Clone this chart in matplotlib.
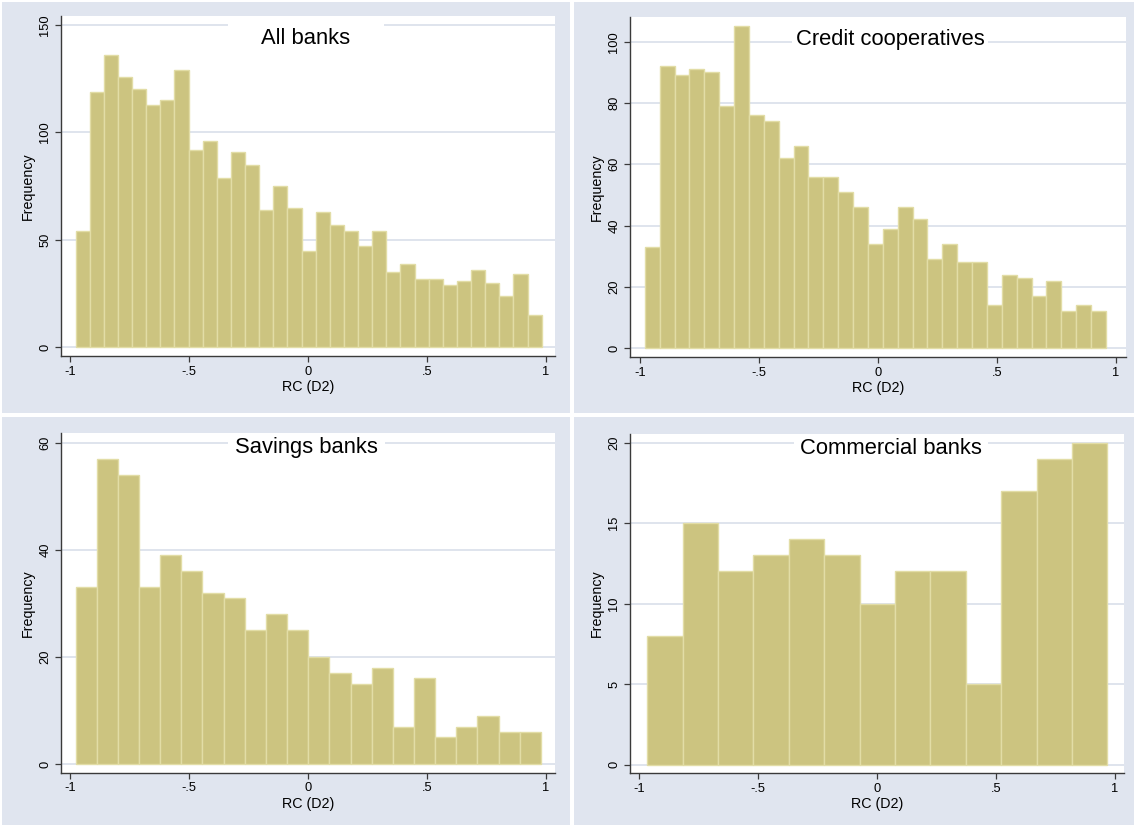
import numpy as np
import matplotlib
matplotlib.use("Agg")
import matplotlib.pyplot as plt
from matplotlib.patches import Rectangle

plt.rcParams['font.family'] = ['Liberation Sans', 'DejaVu Sans']

# ---------------- data ----------------
titles = ["All banks", "Credit cooperatives", "Savings banks", "Commercial banks"]

all_banks_counts = [54, 119, 136, 126, 120, 113, 115, 129, 92, 96, 79, 91, 85, 64, 75, 65,
                    45, 63, 57, 54, 47, 54, 35, 39, 32, 32, 29, 31, 36, 30, 24, 34, 15]
all_banks_range = (-0.977, 0.982)

credit_coop_counts = [33, 92, 89, 91, 90, 79, 105, 76, 74, 62, 66, 56, 56, 51, 46, 34,
                      39, 46, 42, 29, 34, 28, 28, 14, 24, 23, 17, 22, 12, 14, 12]
credit_coop_range = (-0.980, 0.958)

savings_counts = [33, 57, 54, 33, 39, 36, 32, 31, 25, 28, 25, 20, 17, 15, 18, 7,
                  16, 5, 7, 9, 6, 6]
savings_range = (-0.977, 0.979)

commercial_counts = [8, 15, 12, 13, 14, 13, 10, 12, 12, 5, 17, 19, 20]
commercial_range = (-0.966, 0.968)

x_ticks = [-1, -0.5, 0, 0.5, 1]
x_ticklabels = ["-1", "-.5", "0", ".5", "1"]
y_ticks_all = [0, 50, 100, 150]
y_ticks_credit = [0, 20, 40, 60, 80, 100]
y_ticks_savings = [0, 20, 40, 60]
y_ticks_commercial = [0, 5, 10, 15, 20]

x_label = "RC (D2)"
y_label = "Frequency"

# ---------------- style ----------------
W, H = 1134, 825
PANEL_BG = "#E0E5EF"
GRID_C = "#DCE2EC"
BAR_FC = "#CCC480"
BAR_EC = "#E2DDA6"
AX_C = "#3A3A3A"

fig = plt.figure(figsize=(W / 100, H / 100), dpi=100)
fig.patch.set_facecolor("white")


def px_rect(l, t, r, b):
    return [l / W, 1 - b / H, (r - l) / W, (b - t) / H]


panels = [
    # panel bg (l,t,r,b), axes (l,t,r,b), xlim, ylim, title center (x,y), title box width
    dict(bg=(2, 2, 570, 413), ax=(61, 16, 555, 356), xlim=(-1.038, 1.038), ylim=(-4.05, 154.2),
         counts=all_banks_counts, rng=all_banks_range, yt=y_ticks_all, title=titles[0],
         tc=(306, 38), tw=156),
    dict(bg=(574, 2, 1134, 413), ax=(630, 16.7, 1126, 357.3), xlim=(-1.042, 1.042), ylim=(-3.04, 108.2),
         counts=credit_coop_counts, rng=credit_coop_range, yt=y_ticks_credit, title=titles[1],
         tc=(890, 39), tw=196),
    dict(bg=(2, 417, 570, 825), ax=(61, 433.3, 555, 772.7), xlim=(-1.038, 1.038), ylim=(-1.62, 61.77),
         counts=savings_counts, rng=savings_range, yt=y_ticks_savings, title=titles[2],
         tc=(306, 448), tw=157),
    dict(bg=(574, 417, 1134, 825), ax=(630, 434, 1124, 773.3), xlim=(-1.038, 1.038), ylim=(-0.535, 20.54),
         counts=commercial_counts, rng=commercial_range, yt=y_ticks_commercial, title=titles[3],
         tc=(891, 448), tw=194),
]

for p in panels:
    l, t, r, b = p["bg"]
    fig.patches.append(Rectangle((l / W, 1 - b / H), (r - l) / W, (b - t) / H,
                                 transform=fig.transFigure, facecolor=PANEL_BG,
                                 edgecolor="none", zorder=0))

    al, at, ar, ab = p["ax"]
    ax = fig.add_axes(px_rect(al, at, ar, ab))
    ax.set_facecolor("white")
    ax.set_zorder(1)

    counts = np.array(p["counts"])
    edges = np.linspace(p["rng"][0], p["rng"][1], len(counts) + 1)
    ax.bar(edges[:-1], counts, width=np.diff(edges), align="edge",
           color=BAR_FC, edgecolor=BAR_EC, linewidth=1.0, zorder=3)

    ax.set_xlim(*p["xlim"])
    ax.set_ylim(*p["ylim"])

    for yv in p["yt"]:
        ax.axhline(yv, color=GRID_C, linewidth=1.3, zorder=1)

    # white title box breaking the grid line
    cx, cy = p["tc"]
    bw, bh = p["tw"], 28
    x0 = (cx - bw / 2 - al) / (ar - al)
    y0 = (ab - (cy + bh / 2)) / (ab - at)
    ax.add_patch(Rectangle((x0, y0), bw / (ar - al), bh / (ab - at), transform=ax.transAxes,
                           facecolor="white", edgecolor="none", zorder=2))
    ax.text((cx - al) / (ar - al), (ab - cy) / (ab - at), p["title"], transform=ax.transAxes,
            ha="center", va="center", fontsize=15.8, color="black", zorder=5)

    ax.set_xticks(x_ticks)
    ax.set_xticklabels(x_ticklabels)
    ax.set_yticks(p["yt"])
    ax.set_yticklabels([str(v) for v in p["yt"]], rotation=90, va="center")
    ax.tick_params(axis="both", direction="out", length=4.5, width=0.9, color=AX_C,
                   labelsize=9.3, labelcolor="black")
    ax.tick_params(axis="x", pad=2.5)
    ax.tick_params(axis="y", pad=2.5)

    for s in ["top", "right"]:
        ax.spines[s].set_visible(False)
    for s in ["left", "bottom"]:
        ax.spines[s].set_color(AX_C)
        ax.spines[s].set_linewidth(1.0)

    ax.set_xlabel(x_label, fontsize=10.3, labelpad=1.5)
    ax.set_ylabel(y_label, fontsize=10.3, labelpad=3)

fig.savefig("out.png", dpi=100, facecolor="white")
